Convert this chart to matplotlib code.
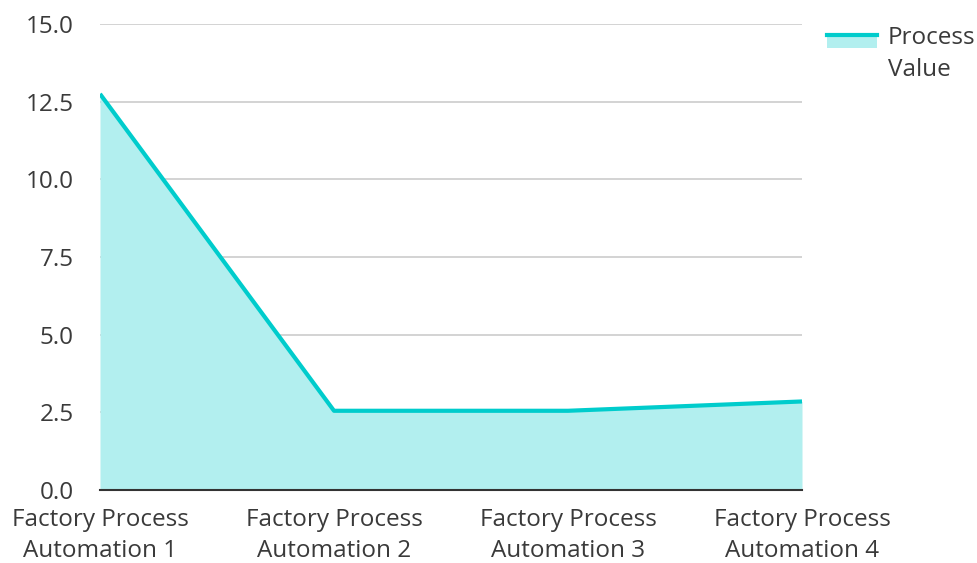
import matplotlib.pyplot as plt
from matplotlib.patches import Rectangle
from matplotlib.lines import Line2D

plt.rcParams['font.family'] = ['Open Sans', 'DejaVu Sans']

categories = ['Factory Process\nAutomation 1', 'Factory Process\nAutomation 2',
              'Factory Process\nAutomation 3', 'Factory Process\nAutomation 4']
values = [12.75, 2.55, 2.55, 2.85]
y_ticks = [0.0, 2.5, 5.0, 7.5, 10.0, 12.5, 15.0]

line_color = '#00cccc'
fill_color = '#b2efef'
text_color = '#3a3a3a'

W, H = 978, 563
fig = plt.figure(figsize=(W / 100, H / 100), dpi=100)
ax = fig.add_axes([100 / W, 1 - 490 / H, 702 / W, 466 / H])

x = list(range(len(categories)))
ax.fill_between(x, values, 0, color=fill_color, linewidth=0, zorder=2)
ax.plot(x, values, color=line_color, linewidth=3, zorder=3, solid_capstyle='butt')

ax.set_xlim(0, len(categories) - 1)
ax.set_ylim(0, 15)
ax.set_yticks(y_ticks)
ax.set_yticklabels(['%.1f' % v for v in y_ticks], fontsize=17.5, color=text_color)
ax.set_xticks(x)
ax.set_xticklabels(categories, fontsize=17.5, color=text_color, linespacing=1.38)
ax.tick_params(axis='y', length=0, pad=19)
ax.tick_params(axis='x', length=0, pad=13)
for v in y_ticks[1:]:
    ax.axhline(v, color='#cccccc', linewidth=1.2, zorder=1)
for s in ['top', 'right', 'left']:
    ax.spines[s].set_visible(False)
ax.spines['bottom'].set_color('#333333')
ax.spines['bottom'].set_linewidth(1.5)
ax.spines['bottom'].set_zorder(4)

# legend
fig.patches.append(Rectangle((827 / W, 1 - 48 / H), 50 / W, 13 / H,
                             transform=fig.transFigure, facecolor=fill_color,
                             edgecolor='none'))
fig.lines.append(Line2D([827 / W, 877 / W], [1 - 35 / H, 1 - 35 / H],
                        transform=fig.transFigure, color=line_color, linewidth=3))
fig.text(888 / W, 1 - 54 / H, 'Process\nValue', fontsize=17.5, color=text_color,
         va='center', ha='left', linespacing=1.5)

plt.savefig('out.png', dpi=100)
